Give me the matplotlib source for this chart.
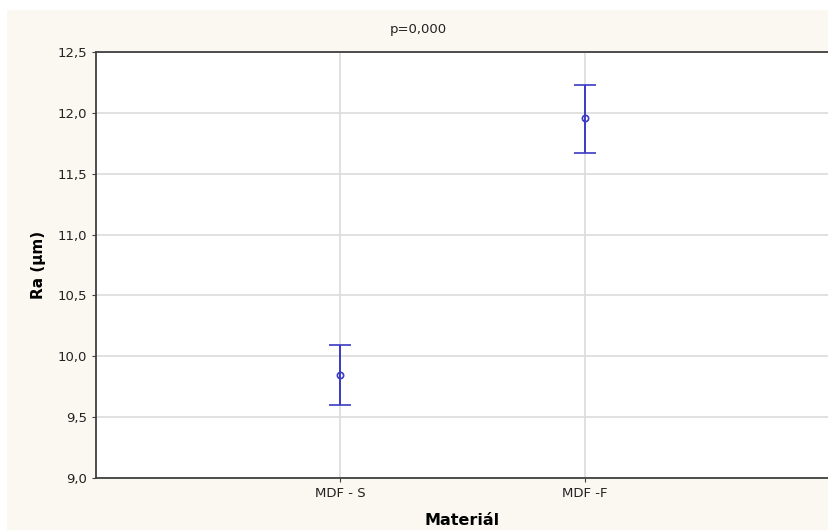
import numpy as np
import matplotlib.pyplot as plt
from matplotlib.ticker import FuncFormatter
from matplotlib.patches import Rectangle

categories = ['MDF - S', 'MDF -F']
means = [9.85, 11.96]
lower = [9.60, 11.67]
upper = [10.09, 12.23]

fig = plt.figure(figsize=(8.29, 5.30), dpi=100)
fig.patch.set_facecolor('#faf8f1')
# thin white margin at top and left, as in the screenshot
fig.add_artist(Rectangle((0, 1 - 10/530), 1, 10/530, transform=fig.transFigure, color='white', lw=0))
fig.add_artist(Rectangle((0, 0), 7/829, 1, transform=fig.transFigure, color='white', lw=0))

ax = fig.add_axes([96/829, 52/530, 733/829, 426/530])
ax.set_facecolor('white')

x = np.arange(1, len(categories) + 1)
yerr = [np.array(means) - np.array(lower), np.array(upper) - np.array(means)]
ax.errorbar(x, means, yerr=yerr, fmt='o', color='#3b3bc4', ms=4.5,
            mfc='none', mew=1.2, elinewidth=1.4, capsize=8, capthick=1.4, zorder=3)

ax.set_xlim(0, 3)
ax.set_ylim(9.0, 12.5)
ax.set_xticks(x)
ax.set_xticklabels(categories)
ax.set_yticks(np.arange(9.0, 12.51, 0.5))
ax.yaxis.set_major_formatter(FuncFormatter(lambda v, p: f'{v:.1f}'.replace('.', ',')))
ax.grid(True, color='#dcdcdc', lw=1.2)
ax.set_axisbelow(True)
for s in ax.spines.values():
    s.set_color('#404040')
    s.set_linewidth(1.3)
ax.tick_params(length=3, color='#404040', labelsize=9.5, labelcolor='#222222')

ax.set_ylabel('Ra (µm)', fontsize=11, fontweight='bold', labelpad=8)
ax.set_xlabel('Materiál', fontsize=11.5, fontweight='bold', labelpad=9)
fig.text(0.505, 0.945, 'p=0,000', ha='center', va='center', fontsize=9.5, color='#222222')

fig.savefig('out.png', dpi=100, facecolor=fig.get_facecolor())
